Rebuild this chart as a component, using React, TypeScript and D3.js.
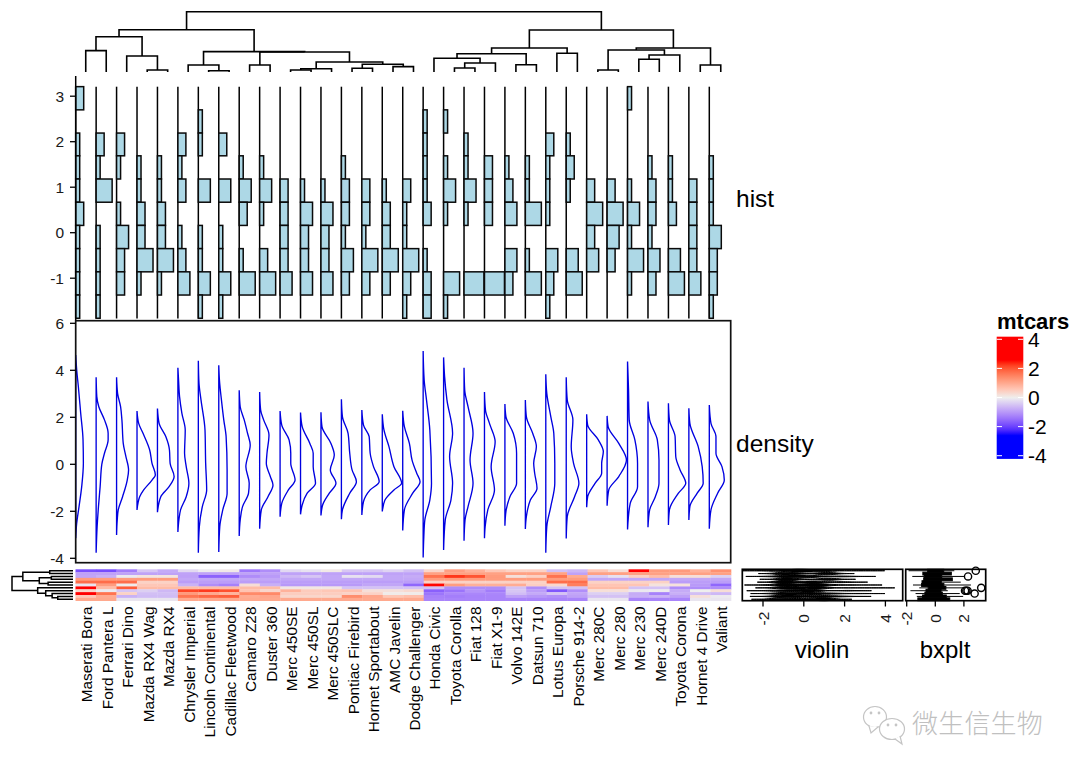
import React from "react";
import * as d3 from "d3";

// ---------- data (left-to-right order of the chart) ----------
const cars = ["Maserati Bora","Ford Pantera L","Ferrari Dino","Mazda RX4 Wag","Mazda RX4","Chrysler Imperial","Lincoln Continental","Cadillac Fleetwood","Camaro Z28","Duster 360","Merc 450SE","Merc 450SL","Merc 450SLC","Pontiac Firebird","Hornet Sportabout","AMC Javelin","Dodge Challenger","Honda Civic","Toyota Corolla","Fiat 128","Fiat X1-9","Volvo 142E","Datsun 710","Lotus Europa","Porsche 914-2","Merc 280C","Merc 280","Merc 230","Merc 240D","Toyota Corona","Hornet 4 Drive","Valiant"];

const qsec = [-1.82,-1.87,-1.31,-.46,-.78,-.24,-.02,.07,-1.37,-1.12,-.25,-.14,.08,-.45,-.46,-.31,-.55,.37,1.15,.91,.59,.42,.43,-.53,-.64,.59,.25,2.83,1.2,1.21,.89,1.33];
const vs = [-.87,-.87,-.87,-.87,-.87,-.87,-.87,-.87,-.87,-.87,-.87,-.87,-.87,-.87,-.87,-.87,-.87,1.12,1.12,1.12,1.12,1.12,1.12,1.12,-.87,1.12,1.12,1.12,1.12,1.12,1.12,1.12];
const mpg = [-.84,-.71,-.06,.15,.15,-.89,-1.61,-1.61,-1.13,-.96,-.61,-.46,-.81,-.15,-.23,-.81,-.76,1.71,2.29,2.04,1.2,.22,.45,1.71,.98,-.38,-.15,.45,.72,.23,.22,-.33];
const am = [1.19,1.19,1.19,1.19,1.19,-.81,-.81,-.81,-.81,-.81,-.81,-.81,-.81,-.81,-.81,-.81,-.81,1.19,1.19,1.19,1.19,1.19,1.19,1.19,1.19,-.81,-.81,-.81,-.81,-.81,-.81,-.81];
const gear = [1.78,1.78,1.78,.42,.42,-.93,-.93,-.93,-.93,-.93,-.93,-.93,-.93,-.93,-.93,-.93,-.93,.42,.42,.42,.42,.42,.42,1.78,1.78,.42,.42,.42,.42,-.93,-.93,-.93];
const drat = [-.11,1.17,.04,.57,.57,-.69,-1.11,-1.25,.25,-.72,-.98,-.98,-.98,-.96,-.83,-.83,-1.56,2.49,1.17,.9,.9,.96,.47,.33,1.56,.6,.6,.6,.17,.19,-.96,-1.56];
const carb = [3.21,.74,1.97,.74,.74,.74,.74,.74,.74,.74,.12,.12,.12,-.5,-.5,-.5,-.5,-.5,-1.12,-1.12,-1.12,-.5,-1.12,-.5,-.5,.74,.74,-.5,-.5,-1.12,-1.12,-1.12];
const wt = [.36,-.05,-.46,-.35,-.61,2.17,2.26,2.08,.64,.36,.87,.52,.58,.64,.23,.22,.31,-1.64,-1.41,-1.04,-1.31,-.45,-.92,-1.74,-1.1,.23,.23,-.07,-.03,-.77,0,.25];
const hp = [2.75,1.71,.41,-.54,-.54,1.21,1.0,.85,1.43,1.43,.49,.49,.49,.41,.41,.05,.05,-1.38,-1.19,-1.18,-1.18,-.56,-.78,-.49,-.82,-.35,-.35,-.75,-1.24,-.72,-.54,-.61];
const disp = [.57,.97,-.69,-.57,-.57,1.69,1.85,1.95,.97,1.04,.36,.36,.36,1.37,1.04,.59,.70,-1.25,-1.29,-1.23,-1.22,-.89,-.99,-1.09,-.89,-.51,-.51,-.73,-.68,-.89,.22,-.05];
const cyl = [1.01,1.01,-.1,-.1,-.1,1.01,1.01,1.01,1.01,1.01,1.01,1.01,1.01,1.01,1.01,1.01,1.01,-1.22,-1.22,-1.22,-1.22,-1.22,-1.22,-1.22,-1.22,-.1,-.1,-1.22,-1.22,-1.22,-.1,-.1];
const rows = [qsec, vs, mpg, am, gear, drat, carb, wt, hp, disp, cyl];

const histEdges = [3.21,2.70,2.19,1.69,1.18,.67,.16,-.35,-.86,-1.37,-1.88];
const histCounts = [
  [2,0,1,1,1,2,1,1,1,1],[0,0,2,1,4,0,1,1,1,1],[0,0,2,1,0,1,3,2,2,0],[0,0,0,1,1,2,2,4,1,0],
  [0,0,0,1,1,2,2,4,1,0],[0,0,2,1,2,0,1,2,3,0],[0,1,1,0,3,0,1,1,3,1],[0,0,2,0,3,0,1,1,3,1],
  [0,0,0,1,3,2,0,1,4,0],[0,0,0,1,3,1,0,2,4,0],[0,0,0,0,2,2,2,2,3,0],[0,0,0,0,1,3,2,2,3,0],
  [0,0,0,0,1,3,2,2,3,0],[0,0,0,1,2,2,1,3,2,0],[0,0,0,0,2,2,1,4,2,0],[0,0,0,0,1,2,2,4,2,0],
  [0,0,0,0,2,1,1,4,2,1],[0,1,1,1,1,2,0,1,2,2],[0,1,0,1,3,1,0,0,4,1],[0,0,1,1,3,1,0,0,5,0],
  [0,0,0,2,2,2,0,0,5,0],[0,0,0,1,2,3,0,3,2,0],[0,0,0,1,1,4,0,1,4,0],[0,0,2,1,1,1,0,3,2,1],
  [0,0,1,2,1,0,0,3,4,0],[0,0,0,0,2,4,2,3,0,0],[0,0,0,0,2,4,3,2,0,0],[1,0,0,0,1,3,1,4,1,0],
  [0,0,0,1,2,2,1,3,2,0],[0,0,0,1,1,2,0,3,4,0],[0,0,0,0,2,2,2,2,3,0],[0,0,0,1,1,1,3,2,2,1],
];

// [value, density] knots
const densityCurves: number[][][] = [
  [[4.65,0],[4.01,.03],[3.3,.08],[2.17,.15],[1.04,.22],[.04,.23],[-.95,.18],[-1.8,.1],[-2.51,.03],[-3.15,0]],
  [[3.7,0],[2.88,.02],[2.45,.08],[1.89,.25],[1.32,.36],[1.04,.36],[.47,.25],[0,.17],[-.95,.12],[-1.8,.07],[-2.65,.03],[-3.76,0]],
  [[3.7,0],[3.02,.03],[2.45,.12],[1.89,.16],[.89,.2],[.33,.28],[-.24,.36],[-.67,.32],[-1.38,.18],[-1.94,.05],[-2.37,.02],[-3.01,0]],
  [[2.27,0],[1.74,.05],[1.32,.18],[.61,.38],[.04,.45],[-.45,.55],[-.67,.45],[-1.09,.2],[-1.38,.08],[-1.94,0]],
  [[2.37,0],[1.74,.05],[1.18,.25],[.61,.36],[.04,.38],[-.52,.5],[-.95,.35],[-1.38,.1],[-2.04,0]],
  [[4.11,0],[3.59,.02],[2.88,.05],[2.17,.12],[1.46,.22],[.47,.2],[-.1,.25],[-.81,.33],[-1.38,.25],[-1.94,.08],[-2.37,.03],[-2.88,0]],
  [[4.41,0],[3.45,.02],[2.74,.08],[1.46,.2],[.04,.22],[-1.09,.25],[-1.8,.12],[-2.65,.03],[-3.76,0]],
  [[4.21,0],[3.59,.02],[2.74,.08],[1.89,.15],[1.18,.22],[-.24,.25],[-1.23,.25],[-1.94,.12],[-2.65,.03],[-3.73,0]],
  [[3.15,0],[2.45,.03],[1.89,.15],[1.32,.25],[.82,.33],[-.1,.2],[-.81,.3],[-1.23,.28],[-1.8,.1],[-2.37,.03],[-3.05,0]],
  [[3.08,0],[2.31,.03],[1.89,.12],[1.25,.28],[.47,.22],[.04,.2],[-.52,.32],[-.88,.4],[-1.38,.25],[-1.94,.05],[-2.74,0]],
  [[2.27,0],[1.67,.05],[1.04,.27],[.47,.32],[.04,.32],[-.67,.45],[-1.09,.25],[-1.66,.05],[-2.23,0]],
  [[2.2,0],[1.6,.05],[.89,.28],[.47,.38],[-.1,.38],[-.81,.45],[-1.23,.2],[-1.73,.05],[-2.13,0]],
  [[2.21,0],[1.6,.03],[.89,.3],[.4,.4],[-.24,.28],[-.81,.45],[-1.23,.25],[-1.73,.05],[-2.18,0]],
  [[2.77,0],[2.03,.03],[1.32,.2],[.47,.25],[-.24,.32],[-.74,.45],[-1.23,.25],[-1.94,.03],[-2.34,0]],
  [[2.31,0],[1.67,.05],[1.18,.22],[.47,.25],[-.1,.35],[-.74,.52],[-1.09,.25],[-1.59,.05],[-2.16,0]],
  [[2.13,0],[1.46,.05],[.75,.2],[-.1,.35],[-.81,.58],[-1.09,.35],[-1.52,.08],[-2.01,0]],
  [[2.28,0],[1.6,.05],[.89,.2],[.18,.28],[-.38,.42],[-.74,.52],[-1.23,.3],[-1.94,.05],[-2.82,0]],
  [[4.82,0],[3.59,.03],[2.74,.1],[1.46,.2],[-.81,.25],[-1.52,.2],[-2.37,.05],[-3.08,.02],[-3.97,0]],
  [[4.55,0],[3.73,.03],[2.74,.1],[1.32,.27],[.33,.18],[-.81,.27],[-1.52,.22],[-2.37,.05],[-3.65,0]],
  [[4.11,0],[3.16,.02],[2.45,.12],[1.32,.27],[.18,.18],[-.81,.27],[-1.8,.12],[-2.37,.03],[-3.25,0]],
  [[3.08,0],[2.31,.03],[1.74,.15],[.96,.32],[-.1,.2],[-1.09,.3],[-1.94,.1],[-2.65,.02],[-3.15,0]],
  [[2.57,0],[2.03,.03],[1.32,.25],[.47,.35],[-.24,.35],[-.81,.35],[-1.38,.15],[-2.01,.03],[-2.61,0]],
  [[2.74,0],[2.03,.03],[1.32,.22],[.75,.33],[.04,.25],[-.38,.28],[-1.02,.35],[-1.52,.15],[-2.23,.03],[-2.75,0]],
  [[3.83,0],[3.02,.03],[2.03,.15],[1.32,.24],[.04,.27],[-.81,.27],[-1.8,.15],[-2.65,.03],[-3.76,0]],
  [[3.7,0],[2.74,.03],[1.89,.2],[.75,.15],[.04,.22],[-.81,.38],[-1.38,.25],[-2.23,.03],[-3.16,0]],
  [[2.13,0],[1.67,.03],[1.04,.35],[.54,.5],[.04,.45],[-.38,.45],[-.81,.25],[-1.38,.03],[-1.83,0]],
  [[2.06,0],[1.6,.03],[.89,.35],[.18,.58],[-.52,.35],[-1.09,.05],[-1.76,0]],
  [[4.37,0],[3.16,.03],[1.89,.05],[1.04,.22],[.04,.3],[-.95,.3],[-1.66,.08],[-2.77,0]],
  [[2.67,0],[1.89,.05],[1.04,.28],[.18,.33],[-.81,.33],[-1.38,.22],[-1.94,.05],[-2.68,0]],
  [[2.6,0],[1.89,.03],[1.18,.2],[.33,.22],[-.24,.35],[-.81,.52],[-1.23,.3],[-1.94,.03],[-2.58,0]],
  [[2.38,0],[1.74,.03],[.75,.28],[-.1,.4],[-.81,.43],[-1.23,.25],[-1.8,.03],[-2.37,0]],
  [[2.52,0],[1.74,.05],[1.18,.2],[.47,.2],[-.1,.38],[-.67,.45],[-1.23,.25],[-1.94,.05],[-2.74,0]],
];

type Tree = number | [number, Tree, Tree];
const topTree: Tree = [7.35,
  [5.15,
    [4.3, [2.6,0,1], [1.95,2,[.24,3,4]]],
    [2.48, [.85,5,[.16,6,7]], [2.44,[.85,8,9],[1.22,[.4,[.24,10,11],12],[.94,[.45,13,14],[.65,15,16]]]]],
  ],
  [5.12,
    [2.93,[2.23,[1.67,17,[1.1,[.49,18,19],20]],[.89,21,22]],[2.28,23,24]],
    [2.93,[2.68,[.24,25,26],[2.07,[1.55,27,28],29]],[.85,30,31]],
  ],
];
const rowTree: Tree = [7.6,
  [6.25,[2.9,0,1],[4.2,[2.7,2,3],[3.1,4,5]]],
  [4.4,6,[3.4,7,[2.6,8,[1.9,9,10]]]],
];

const histTicks = [3,2,1,0,-1];
const densityTicks = [6,4,2,0,-2,-4];
const violinTicks = [-2,0,2,4];
const boxTicks = [-2,0,2];
const legendTicks = [4,2,0,-2,-4];

// ---------- scales ----------
const bandX = d3.scaleBand<number>().domain(d3.range(32)).range([75.5,731]);
const baseX = d3.scaleLinear().domain([0,31]).range([75.7,709.3]);
const countW = d3.scaleLinear().domain([0,5]).range([0,20]);
const densW = d3.scaleLinear().domain([0,.3]).range([0,10]);
const histY = d3.scaleLinear().domain([0,3]).range([232.7,96.2]);
const densY = d3.scaleLinear().domain([0,6]).range([464.3,323.3]);
const rowY = d3.scaleBand<number>().domain(d3.range(11)).range([569.3,600.7]);
const topH = d3.scaleLinear().domain([0,7.35]).range([72,11.7]);
const rowH = d3.scaleLinear().domain([0,7.6]).range([73,12]);
const violinX = d3.scaleLinear().domain([0,2]).range([803.8,844.6]);
const boxX = d3.scaleLinear().domain([0,2]).range([935.3,963.9]);
const legendY = d3.scaleLinear().domain([-4,4]).range([455.7,339.3]);
const heat = d3.scaleLinear<string>().domain([-2.5,0,2.5]).range(["#0000ff","#eeeeee","#ff0000"]).interpolate(d3.interpolateLab).clamp(true);

// ---------- helpers ----------
function treeSegs(t: Tree, leafPos: (i:number)=>number, hPos: (h:number)=>number, out: string[], horiz: boolean): {p:number,h:number} {
  if (typeof t === "number") return { p: leafPos(t), h: hPos(0) };
  const a = treeSegs(t[1], leafPos, hPos, out, horiz);
  const b = treeSegs(t[2], leafPos, hPos, out, horiz);
  const h = hPos(t[0]);
  if (horiz) out.push(`M${a.h},${a.p}H${h}V${b.p}H${b.h}`);
  else out.push(`M${a.p},${a.h}V${h}H${b.p}V${b.h}`);
  return { p: (a.p + b.p) / 2, h };
}

function kde(vals: number[]) {
  const s = [...vals].sort(d3.ascending);
  const sd = d3.deviation(s) as number;
  const iqr = (d3.quantile(s,.75) as number) - (d3.quantile(s,.25) as number);
  const bw = .9 * Math.min(sd, iqr / 1.34) * Math.pow(s.length, -.2);
  const lo = s[0] - 3 * bw, hi = s[s.length-1] + 3 * bw;
  return d3.range(0, 61).map(k => {
    const x = lo + (hi - lo) * k / 60;
    const y = d3.mean(s, v => Math.exp(-.5 * ((x - v) / bw) ** 2)) as number;
    return [x, y];
  });
}
function boxStats(vals: number[]) {
  const s = [...vals].sort(d3.ascending);
  const q1 = d3.quantile(s,.25) as number, q2 = d3.quantile(s,.5) as number, q3 = d3.quantile(s,.75) as number;
  const iqr = q3 - q1;
  const inl = s.filter(v => v >= q1 - 1.5*iqr && v <= q3 + 1.5*iqr);
  return { q1, q2, q3, lo: inl[0], hi: inl[inl.length-1], out: s.filter(v => v < q1 - 1.5*iqr || v > q3 + 1.5*iqr) };
}

const FONT = "'Liberation Sans', Arial, sans-serif";

export default function App() {
  const topSegs: string[] = [];
  treeSegs(topTree, i => (bandX(i) as number) + bandX.bandwidth()/2, topH, topSegs, false);
  const rowSegs: string[] = [];
  treeSegs(rowTree, i => (rowY(i) as number) + rowY.bandwidth()/2, rowH, rowSegs, true);

  const densLine = d3.line<number[]>().curve(d3.curveMonotoneY);
  const bandH = rowY.bandwidth();

  const legendStops = d3.range(-4.2, 4.21, .2);
  const legTop = legendY(4.18), legBot = legendY(-4.22);

  return (
    <svg width={1080} height={771} style={{position:"absolute",left:0,top:0,background:"#fff"}} fontFamily={FONT}>
      <defs>
        <linearGradient id="leg" x1="0" y1="1" x2="0" y2="0">
          {legendStops.map(v => <stop key={v} offset={(v+4.2)/8.4} stopColor={heat(v)} />)}
        </linearGradient>
      </defs>

      {/* top dendrogram */}
      <g fill="none" stroke="#000" strokeWidth={1.6}>
        {topSegs.map((d,i) => <path key={i} d={d} />)}
      </g>

      {/* hist panel */}
      {histCounts.map((counts, c) => (
        <g key={c}>
          <line x1={baseX(c)} x2={baseX(c)} y1={86.7} y2={318.5} stroke="#000" strokeWidth={1.5} />
          {counts.map((n, b) => n === 0 ? null : (
            <rect key={b} x={baseX(c)} y={histY(histEdges[b])} width={countW(n)}
              height={histY(histEdges[b+1]) - histY(histEdges[b])}
              fill="#add8e6" stroke="#0a0a0a" strokeWidth={1.5} />
          ))}
        </g>
      ))}
      <line x1={75.7} x2={75.7} y1={76} y2={320} stroke="#000" strokeWidth={1.5} />
      {histTicks.map(t => (
        <g key={t}>
          <line x1={70} x2={75.7} y1={histY(t)} y2={histY(t)} stroke="#000" strokeWidth={1.3} />
          <text x={64} y={histY(t)+5.5} textAnchor="end" fontSize={15.5} fill="#1a1a1a">{t}</text>
        </g>
      ))}
      <text x={736} y={206.5} fontSize={24.5}>hist</text>

      {/* density panel */}
      {densityCurves.map((knots, c) => (
        <path key={c} d={(densLine(knots.map(([v,d]) => [baseX(c)+densW(d), densY(v)])) as string) + "Z"}
          fill="none" stroke="#0000e0" strokeWidth={1.35} />
      ))}
      <rect x={75.7} y={320.7} width={655} height={242} fill="none" stroke="#111" strokeWidth={1.7} />
      {densityTicks.map(t => (
        <g key={t}>
          <line x1={70} x2={75.7} y1={densY(t)} y2={densY(t)} stroke="#000" strokeWidth={1.3} />
          <text x={64} y={densY(t)+5.5} textAnchor="end" fontSize={15.5} fill="#1a1a1a">{t}</text>
        </g>
      ))}
      <text x={736} y={452} fontSize={24.5}>density</text>

      {/* heatmap */}
      {rows.map((vals, r) => vals.map((v, c) => (
        <rect key={`${r}-${c}`} x={bandX(c)} y={rowY(r)} width={bandX.bandwidth()+.3} height={bandH+.3} fill={heat(v)} />
      )))}

      {/* row dendrogram */}
      <g fill="none" stroke="#000" strokeWidth={1.5}>
        {rowSegs.map((d,i) => <path key={i} d={d} />)}
      </g>

      {/* column labels */}
      {cars.map((n, i) => {
        const x = (bandX(i) as number) + bandX.bandwidth()/2 + 6.5;
        return <text key={n} transform={`translate(${x},606.5) rotate(-90)`} textAnchor="end" fontSize={15.4}>{n}</text>;
      })}

      {/* violin annotation */}
      {rows.map((vals, r) => {
        const k = kde(vals);
        const m = d3.max(k, p => p[1]) as number;
        const cy = (rowY(r) as number) + bandH/2;
        const up = k.map(([x,y]) => `${violinX(x)},${cy - y/m*bandH*.5}`);
        const dn = k.slice().reverse().map(([x,y]) => `${violinX(x)},${cy + y/m*bandH*.5}`);
        return <path key={r} d={`M${up.join("L")}L${dn.join("L")}Z`} fill="#000" stroke="#000" strokeWidth={1} />;
      })}
      <rect x={742.3} y={569.3} width={160.4} height={31.4} fill="none" stroke="#000" strokeWidth={1.7} />
      {violinTicks.map(t => (
        <g key={t}>
          <line x1={violinX(t)} x2={violinX(t)} y1={601} y2={606.5} stroke="#000" strokeWidth={1.3} />
          <text transform={`translate(${violinX(t)+5.5},618.5) rotate(-90)`} textAnchor="middle" fontSize={15.5} fill="#1a1a1a">{t}</text>
        </g>
      ))}
      <text x={822} y={658} textAnchor="middle" fontSize={24}>violin</text>

      {/* box annotation */}
      {rows.map((vals, r) => {
        const s = boxStats(vals);
        const top = rowY(r) as number, mid = top + bandH/2;
        return (
          <g key={r} stroke="#000" fill="none" strokeWidth={1}>
            <line x1={boxX(s.lo)} x2={boxX(s.q1)} y1={mid} y2={mid} />
            <line x1={boxX(s.q3)} x2={boxX(s.hi)} y1={mid} y2={mid} />
            <rect x={boxX(s.q1)} y={top} width={boxX(s.q3)-boxX(s.q1)} height={bandH} fill="#000" />
            {s.out.map((o,i) => <circle key={i} cx={boxX(o)} cy={mid} r={3.6} strokeWidth={1.4} />)}
          </g>
        );
      })}
      <rect x={905.7} y={569.3} width={80} height={31.4} fill="none" stroke="#000" strokeWidth={1.7} />
      {boxTicks.map(t => (
        <g key={t}>
          <line x1={boxX(t)} x2={boxX(t)} y1={601} y2={606.5} stroke="#000" strokeWidth={1.3} />
          <text transform={`translate(${boxX(t)+5.5},618.5) rotate(-90)`} textAnchor="middle" fontSize={15.5} fill="#1a1a1a">{t}</text>
        </g>
      ))}
      <text x={945} y={658} textAnchor="middle" fontSize={24}>bxplt</text>

      {/* legend */}
      <text x={997} y={329} fontSize={22} fontWeight="bold">mtcars</text>
      <rect x={996.7} y={legTop} width={26.6} height={legBot-legTop} fill="url(#leg)" />
      {legendTicks.map(t => (
        <g key={t} stroke="#fff" strokeWidth={1}>
          <line x1={996.7} x2={1002} y1={legendY(t)} y2={legendY(t)} />
          <line x1={1018} x2={1023.3} y1={legendY(t)} y2={legendY(t)} />
          <text x={1028} y={legendY(t)+7.5} fontSize={21} fill="#000" stroke="none">{t}</text>
        </g>
      ))}

      {/* watermark */}
      <g fill="#fff" stroke="#c4c4c4" strokeWidth={1.2}>
        <ellipse cx={875} cy={717} rx={11.5} ry={10.5} />
        <path d="M869,726 L871,733 L878,727" />
        <ellipse cx={892} cy={729} rx={12.5} ry={10.5} />
        <path d="M895,739 L902,744 L900,736" />
        <circle cx={871} cy={713} r={.8} /><circle cx={879} cy={713} r={.8} />
        <circle cx={888} cy={725} r={.8} /><circle cx={896} cy={725} r={.8} />
      </g>
      <text x={912} y={733} fontSize={26} fontFamily="'Noto Sans CJK SC'" fontWeight={300} fill="#c0c0c0" letterSpacing={.2}>微生信生物</text>
    </svg>
  );
}
